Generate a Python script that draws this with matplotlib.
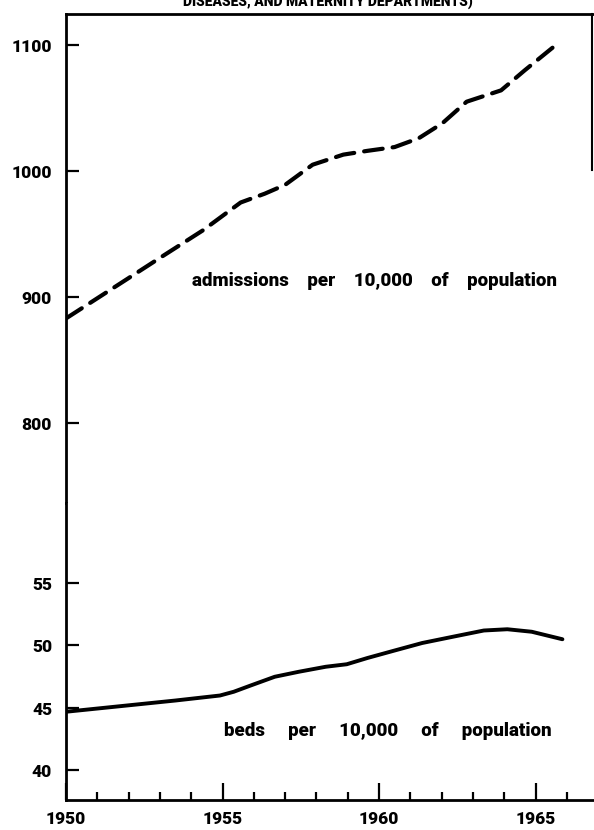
import matplotlib
matplotlib.use("Agg")
import matplotlib.pyplot as plt
from matplotlib.lines import Line2D

plt.rcParams['font.family'] = ['Roboto', 'DejaVu Sans']
plt.rcParams['font.weight'] = 'black'

# admissions per 10,000 of population (dashed line, upper scale)
adm_years = [1950.0, 1951.75, 1953.06, 1954.38, 1955.58, 1956.35, 1957.0, 1957.88,
             1958.86, 1959.63, 1960.5, 1961.27, 1962.03, 1962.8, 1963.9, 1964.66, 1965.7]
adm_values = [883, 911, 932, 953, 975, 982, 989, 1005,
              1013, 1016, 1019, 1026, 1038, 1055, 1064, 1080, 1101]

# beds per 10,000 of population (solid line, lower scale)
bed_years = [1950.0, 1953.5, 1954.92, 1955.36, 1955.9, 1956.67, 1957.44, 1958.3,
             1958.97, 1959.63, 1960.5, 1961.38, 1962.36, 1963.35, 1964.1, 1964.88, 1965.86]
bed_values = [44.7, 45.6, 46.0, 46.3, 46.8, 47.5, 47.9, 48.3,
              48.5, 49.0, 49.6, 50.2, 50.7, 51.2, 51.3, 51.1, 50.5]

upper_ticks = [800, 900, 1000, 1100]
lower_ticks = [40, 45, 50, 55]
major_years = [1950, 1955, 1960, 1965]
minor_years = [y for y in range(1951, 1967) if y % 5 != 0]

W, H = 594, 830
fig = plt.figure(figsize=(W / 100, H / 100), dpi=100)

def box(top, bottom, left=66, right=594):
    return [left / W, (H - bottom) / H, (right - left) / W, (bottom - top) / H]

x0, x1 = 1950, 1950 + 528 / 31.3

# upper part
ax1 = fig.add_axes(box(14, 503))
ax1.plot(adm_years, adm_values, color='black', lw=3, dashes=(4.5, 2.4),
         dash_capstyle='round', solid_capstyle='round')
ax1.set_xlim(x0, x1)
ax1.set_ylim(1100 - 489 / 1.26 + 31 / 1.26, 1100 + 31 / 1.26)
ax1.set_yticks(upper_ticks)
ax1.set_yticklabels([str(t) for t in upper_ticks])
ax1.set_xticks([])
for s in ['right', 'bottom']:
    ax1.spines[s].set_visible(False)
ax1.spines['left'].set_linewidth(2)
ax1.spines['top'].set_linewidth(2)
ax1.tick_params(axis='y', direction='in', length=9, width=1.6, pad=10, labelsize=12.5)
ax1.text(1965.7, 913, 'admissions    per    10,000    of    population', ha='right',
         va='center', fontsize=13.5, fontweight='black')

# lower part
ax2 = fig.add_axes(box(503, 800))
ax2.plot(bed_years, bed_values, color='black', lw=2.8, solid_capstyle='round')
ax2.set_xlim(x0, x1)
ax2.set_ylim(55 - 217 / 12.5, 55 + 80 / 12.5)
ax2.set_yticks(lower_ticks)
ax2.set_yticklabels([str(t) for t in lower_ticks])
ax2.set_xticks(major_years)
ax2.set_xticklabels([str(y) for y in major_years])
ax2.set_xticks(minor_years, minor=True)
for s in ['right', 'top']:
    ax2.spines[s].set_visible(False)
ax2.spines['left'].set_linewidth(2)
ax2.spines['bottom'].set_linewidth(2)
ax2.tick_params(axis='y', direction='in', length=9, width=1.6, pad=10, labelsize=12.5)
ax2.tick_params(axis='x', which='major', direction='in', length=12, width=1.6,
                pad=8, labelsize=12.5)
ax2.tick_params(axis='x', which='minor', direction='in', length=6, width=1.6)
ax2.text(1965.5, 43.2, 'beds     per     10,000     of     population', ha='right',
         va='center', fontsize=13.5, fontweight='black')

# right edge of the frame (only its upper part survives in the scan)
fig.add_artist(Line2D([592 / W, 592 / W], [(H - 14) / H, (H - 170) / H],
                      color='black', lw=1.5))

# title, cut off at the top of the page as in the scan
fig.text(328 / W, (H - 2) / H, 'DISEASES, AND MATERNITY DEPARTMENTS)', ha='center',
         va='center', fontsize=10, fontweight='black')

fig.savefig('out.png', dpi=100)
